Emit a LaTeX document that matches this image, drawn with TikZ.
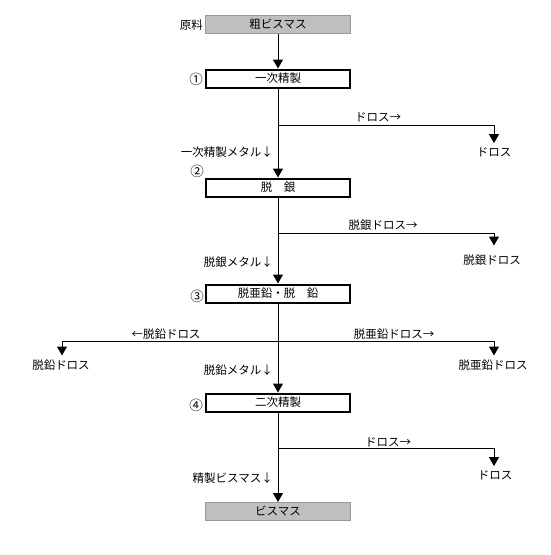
\documentclass[tikz,border=0pt]{standalone}
\usepackage{fontspec}
\setmainfont{Noto Sans CJK JP}
\usetikzlibrary{arrows.meta}
\begin{document}
\begin{tikzpicture}[x=1pt,y=-1pt,
  font=\fontsize{11.5}{13}\selectfont,
  proc/.style={draw, line width=2pt, minimum width=144pt, minimum height=18pt, inner sep=0pt},
  endbox/.style={draw=black!40, fill=black!25, line width=1pt, minimum width=145pt, minimum height=18pt, inner sep=0pt},
  flow/.style={line width=1pt, -{Triangle[width=10pt,length=9pt]}},
  lbl/.style={inner sep=0pt},
  num/.style={inner sep=0pt, font=\fontsize{13.5}{14}\selectfont},
]
\useasboundingbox (0,0) rectangle (551,555);

% main boxes
\node[endbox] (b0) at (278,24) {粗ビスマス};
\node[proc] (b1) at (278,78.5) {一次精製};
\node[proc] (b2) at (278,187.5) {脱　銀};
\node[proc] (b3) at (278,293.5) {脱亜鉛・脱　鉛};
\node[proc] (b4) at (278,402.5) {二次精製};
\node[endbox] (b5) at (278,511.5) {ビスマス};

% side labels
\node[lbl, anchor=east] (src) at (203,25) {原料};
\node[num] (n1) at (196,79) {①};
\node[num] (n2) at (197,171) {②};
\node[num] (n3) at (197,296) {③};
\node[num] (n4) at (196,405) {④};

% branch points
\coordinate (j1) at (278,125);
\coordinate (j2) at (278,233);
\coordinate (j3) at (278,341);
\coordinate (j4) at (278,448);

% dross outputs
\node[lbl] (d1) at (494,152) {ドロス};
\node[lbl] (d2) at (492,260) {脱銀ドロス};
\node[lbl] (d3l) at (61,365) {脱鉛ドロス};
\node[lbl] (d3r) at (493,365) {脱亜鉛ドロス};
\node[lbl] (d4) at (495,475) {ドロス};

% labels over branch lines
\node[lbl] (t1) at (378,117) {ドロス→};
\node[lbl] (t2) at (383,225) {脱銀ドロス→};
\node[lbl] (t3l) at (166,334) {←脱鉛ドロス};
\node[lbl] (t3r) at (394,334) {脱亜鉛ドロス→};
\node[lbl] (t4) at (388,442) {ドロス→};

% metal labels
\node[lbl, anchor=east] (m1) at (273,152) {一次精製メタル↓};
\node[lbl, anchor=east] (m2) at (273,262) {脱銀メタル↓};
\node[lbl, anchor=east] (m3) at (273,370) {脱鉛メタル↓};
\node[lbl, anchor=east] (m4) at (273,478) {精製ビスマス↓};

% main flow
\draw[flow] (b0) -- (b1);
\draw[flow] (b1) -- (b2);
\draw[flow] (b2) -- (b3);
\draw[flow] (b3) -- (b4);
\draw[flow] (b4) -- (b5);

% branches
\draw[flow, shorten >=4pt] (j1) -| (d1.north);
\draw[flow, shorten >=9pt] (j2) -| (d2.north -| 494,0);
\draw[flow, shorten >=4pt] (j3) -| (d3l.north -| 62,0);
\draw[flow, shorten >=4pt] (j3) -| (d3r.north -| 494,0);
\draw[flow, shorten >=4pt] (j4) -| (d4.north -| 494,0);
\end{tikzpicture}
\end{document}
